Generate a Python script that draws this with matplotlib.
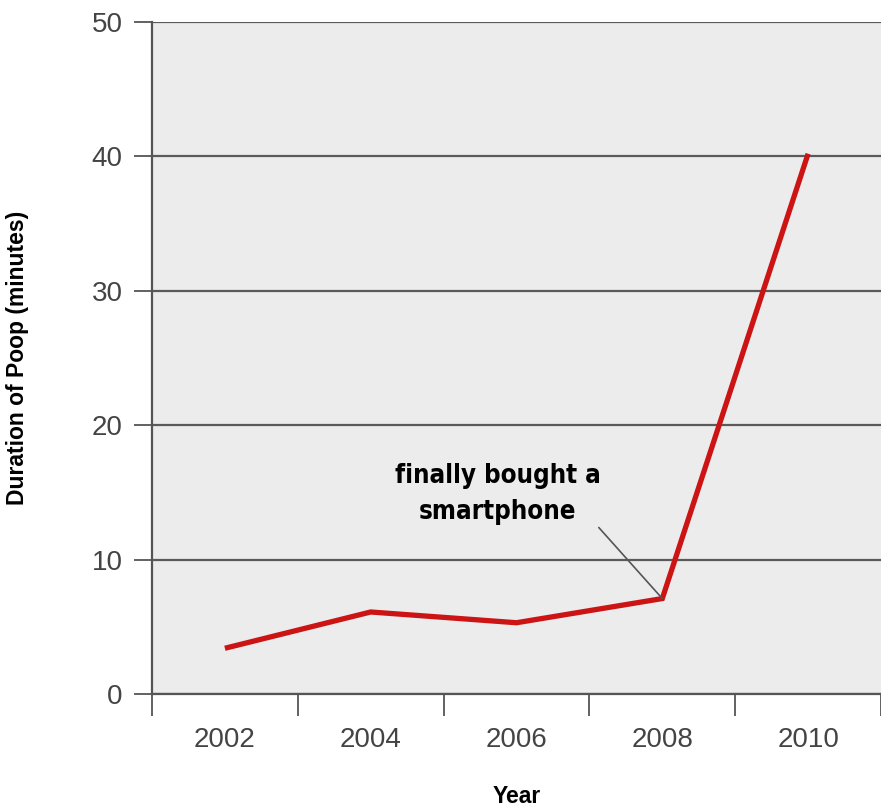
import matplotlib
matplotlib.use("Agg")
import matplotlib.pyplot as plt

# data
years = ["2002", "2004", "2006", "2008", "2010"]
minutes = [3.4, 6.1, 5.3, 7.1, 40.2]
y_ticks = [0, 10, 20, 30, 40, 50]
note = "finally bought a\nsmartphone"
note_year = "2008"

plt.rcParams['font.family'] = ['Liberation Sans', 'DejaVu Sans']

fig = plt.figure(figsize=(8.81, 8.06), dpi=100)
ax = fig.add_axes([0.1725, 0.139, 0.8275, 0.8337])
ax.set_facecolor('#ececec')

pos = list(range(len(years)))
ax.plot(pos, minutes, color='#cc1414', lw=3.8, solid_capstyle='butt',
        solid_joinstyle='miter', zorder=3)

ax.set_xlim(-0.5, len(years) - 0.5)
ax.set_ylim(0, 50)
ax.set_yticks(y_ticks)
ax.yaxis.grid(True, color='#5a5a5a', lw=1.6)
ax.set_axisbelow(True)

# tick marks between years, labels at the year centres
ax.set_xticks([p - 0.5 for p in pos] + [len(years) - 0.5])
ax.set_xticklabels([])
ax.set_xticks(pos, minor=True)
ax.set_xticklabels(years, minor=True)
ax.tick_params(axis='x', which='major', length=16, width=1.3, color='#555555')
ax.tick_params(axis='x', which='minor', length=0, pad=24, labelsize=20,
               labelcolor='#444444')
ax.tick_params(axis='y', length=13, width=1.3, color='#555555', pad=8,
               labelsize=20, labelcolor='#444444')

for s in ['top', 'right']:
    ax.spines[s].set_visible(False)
ax.spines['left'].set_color('#555555')
ax.spines['left'].set_linewidth(1.6)
ax.spines['bottom'].set_color('#555555')
ax.spines['bottom'].set_linewidth(1.6)

i = years.index(note_year)
ax.annotate(note, xy=(i, minutes[i]), xytext=(i - 1.13, 14.9),
            ha='center', va='center', fontsize=18.5, fontweight='heavy',
            family=['Liberation Sans Narrow', 'DejaVu Sans'],
            fontstretch='condensed', linespacing=1.5,
            arrowprops=dict(arrowstyle='-', color='#555555', lw=1.2,
                            shrinkA=0, shrinkB=0,
                            relpos=(0.98, 0.0)))

ax.set_xlabel("Year", fontsize=16.5, fontweight='bold')
ax.set_ylabel("Duration of Poop (minutes)", fontsize=16.5, fontweight='bold')
ax.yaxis.set_label_coords(-0.168, 0.5)
ax.xaxis.set_label_coords(0.5, -0.135)

fig.savefig("out.png", dpi=100)
